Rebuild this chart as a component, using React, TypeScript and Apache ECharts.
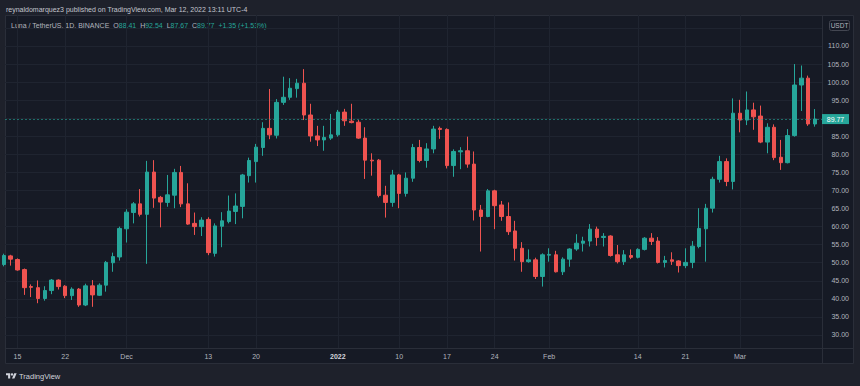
import React, { useEffect, useRef } from "react";
import * as echarts from "echarts";

// ---- data (Luna / TetherUS, 1D, Binance) ----
const startDate = "2021-11-13";
const opens = [
  49.5, 51.9, 50.9, 48.1, 43.4, 43.1, 40.1, 42.3, 45.2, 43.5, 40.9, 42.7, 38.3, 43.6, 41.0, 43.8, 50.0, 51.6,
  59.4, 63.9, 66.3, 63.4, 75.1, 68.1, 66.7, 68.7, 75.0, 66.3, 60.9, 60.0, 62.0, 52.6, 60.1, 61.4, 64.2, 65.6, 74.1, 78.0, 81.9, 87.2, 85.3, 94.4, 95.8, 98.2, 99.7, 90.9, 85.1, 84.0, 84.5,
  85.4, 91.7, 89.2, 88.9, 84.5, 78.4, 78.4, 68.7, 66.7, 74.3, 69.2, 73.4, 81.9, 78.3, 81.5, 87.2, 86.9, 76.9, 80.7, 81.0, 77.3, 64.6, 62.8, 69.9, 66.0, 62.8, 58.8, 54.0, 50.3, 50.8, 46.2,
  52.1, 52.2, 47.5, 51.0, 53.8, 55.4, 56.0, 59.3, 57.0, 57.4, 52.2, 50.3, 52.0, 51.5, 53.7, 56.8, 56.0, 50.1, 50.8, 50.5, 49.2, 50.1, 54.5, 59.4, 65.1, 73.1, 78.0, 72.5,
  91.4, 89.5, 92.3, 90.6, 83.4, 87.5, 79.2, 77.7, 85.2, 99.2, 101.1, 88.41,
];
const highs = [
  52.5, 52.2, 51.2, 48.4, 44.0, 45.1, 43.5, 45.5, 45.4, 43.8, 43.2, 43.0, 44.2, 45.2, 44.3, 50.5, 52.8, 60.0,
  64.8, 66.8, 70.4, 78.2, 78.4, 68.5, 74.3, 76.0, 76.8, 72.0, 63.9, 62.6, 62.6, 60.9, 64.0, 68.6, 69.2, 74.6, 79.1, 82.9, 88.9, 98.1, 95.3, 101.5, 101.1, 100.9, 103.6, 94.0, 87.9, 87.9, 91.2,
  92.3, 92.6, 94.0, 89.5, 87.5, 80.3, 78.7, 71.3, 75.7, 74.6, 75.0, 82.9, 84.0, 83.1, 87.9, 87.7, 87.2, 81.4, 82.0, 84.9, 80.8, 66.0, 70.4, 70.2, 67.1, 66.7, 61.6, 55.7, 53.7, 51.4, 52.6,
  54.0, 53.3, 51.5, 54.0, 57.9, 57.2, 60.7, 60.0, 58.2, 57.6, 54.9, 53.5, 53.7, 54.0, 57.1, 58.2, 57.1, 51.9, 52.9, 50.7, 54.0, 56.0, 65.1, 66.3, 73.8, 79.6, 78.9, 95.5,
  95.1, 97.4, 94.3, 93.5, 88.6, 88.3, 84.0, 87.0, 105.0, 104.6, 101.8, 92.54,
];
const lows = [
  49.0, 49.2, 47.8, 41.1, 40.5, 38.8, 39.5, 41.3, 42.6, 40.2, 39.7, 37.8, 38.0, 37.8, 40.8, 42.0, 47.5, 50.6,
  55.6, 60.9, 62.8, 49.7, 65.2, 59.8, 65.5, 65.1, 65.4, 60.5, 57.7, 57.4, 52.1, 51.7, 54.3, 60.9, 60.7, 62.3, 72.2, 72.2, 79.6, 84.2, 84.4, 93.7, 95.1, 95.7, 89.5, 83.5, 82.3, 81.0, 84.0,
  84.9, 87.9, 88.6, 84.3, 73.2, 74.1, 68.1, 62.5, 65.5, 65.1, 68.3, 72.4, 77.8, 76.3, 80.3, 84.3, 76.1, 73.8, 75.9, 76.3, 61.7, 53.1, 62.6, 59.3, 61.6, 57.7, 50.6, 47.5, 50.0, 45.5, 43.4,
  50.3, 47.3, 46.6, 48.9, 53.3, 53.1, 54.5, 54.7, 54.5, 51.7, 49.8, 49.4, 51.0, 51.2, 53.4, 54.9, 49.8, 48.7, 49.4, 47.3, 48.5, 48.5, 54.0, 50.3, 63.9, 72.2, 71.2, 70.3,
  86.1, 88.1, 86.8, 83.1, 80.3, 78.4, 75.7, 77.5, 84.9, 92.0, 87.9, 87.67,
];
const closes = [
  52.0, 51.0, 48.0, 43.1, 43.2, 40.1, 42.3, 45.2, 43.4, 40.9, 42.7, 38.3, 43.6, 41.1, 43.8, 50.1, 51.7, 59.5,
  64.0, 66.3, 63.4, 75.1, 67.9, 66.8, 68.8, 75.0, 66.3, 60.7, 60.0, 61.8, 52.8, 60.2, 61.6, 64.3, 65.7, 74.3, 78.3, 82.0, 87.2, 85.4, 94.4, 95.8, 98.3, 99.7, 90.9, 85.1, 84.0, 84.7, 85.4,
  91.7, 89.3, 88.8, 84.5, 78.4, 78.2, 68.6, 66.7, 74.3, 69.2, 73.4, 81.9, 78.3, 81.5, 87.0, 86.9, 76.9, 80.8, 81.0, 77.3, 64.6, 62.8, 69.9, 65.8, 62.8, 58.6, 54.0, 50.3, 50.8, 46.2, 52.2,
  52.3, 47.5, 51.0, 53.8, 55.4, 56.0, 59.3, 57.0, 57.3, 52.0, 50.3, 52.2, 51.5, 53.7, 56.8, 55.9, 50.1, 50.6, 50.4, 49.2, 50.1, 54.6, 59.5, 65.1, 73.1, 78.0, 72.5, 91.4,
  89.5, 92.3, 90.4, 83.4, 87.5, 79.1, 77.7, 85.2, 99.2, 101.1, 88.42, 89.77,
];
const priceTicks = [30, 35, 40, 45, 50, 55, 60, 65, 70, 75, 80, 85, 90, 95, 100, 105, 110];
const gridPrices = [30, 35, 40, 45, 50, 55, 60, 65, 70, 75, 80, 85, 90, 95, 100, 105, 110, 115];
const tickDates = [
  "2021-11-15", "2021-11-22", "2021-12-01", "2021-12-13", "2021-12-20", "2022-01-01", "2022-01-10",
  "2022-01-17", "2022-01-24", "2022-02-01", "2022-02-14", "2022-02-21", "2022-03-01",
];
const tickLabels = ["15", "22", "Dec", "13", "20", "2022", "10", "17", "24", "Feb", "14", "21", "Mar"];

const dates: string[] = [];
{
  const [y, m, d] = startDate.split("-").map(Number);
  for (let i = 0; i < closes.length; i++) {
    dates.push(new Date(Date.UTC(y, m - 1, d + i)).toISOString().slice(0, 10));
  }
}
const tickIdx = tickDates.map((d) => dates.indexOf(d));

const UP = "#26a69a";
const DOWN = "#ef5350";
const FONT = '"Liberation Sans", Arial, sans-serif';
const TXT = "#b2b5be";

const LOGO_D = "M14 22H7V11H0V4h14v18zM28 22h-8l7.5-18h8L28 22zM24 8a4 4 0 1 1-8 0a4 4 0 1 1 8 0z";
let logoRegistered = false;

export default function App() {
  const ref = useRef<HTMLDivElement>(null);
  useEffect(() => {
    document.body.style.margin = "0";
    if (!logoRegistered) {
      echarts.graphic.registerShape("tvlogo", echarts.graphic.extendPath(LOGO_D, {}) as any);
      logoRegistered = true;
    }
    const chart = echarts.init(ref.current!, null, { renderer: "svg" });
    const n = closes.length;
    const data = closes.map((c, i) => [i, opens[i], c, lows[i], highs[i]]);
    const last = n - 1;
    const lastClose = closes[last];
    const chg = lastClose - closes[last - 1];
    const pct = (chg / closes[last - 1]) * 100;
    const sign = chg >= 0 ? "+" : "";
    const legend =
      "{a|Luna / TetherUS, 1D, BINANCE}  " +
      `{l|O}{v|${opens[last].toFixed(2)}}  {l|H}{v|${highs[last].toFixed(2)}}  ` +
      `{l|L}{v|${lows[last].toFixed(2)}}  {l|C}{v|${lastClose.toFixed(2)}}  ` +
      `{v|${sign}${chg.toFixed(2)} (${sign}${pct.toFixed(2)}%)}`;
    // price labels hidden behind the last-price box
    const shownPriceTicks = priceTicks.filter((p) => Math.abs(p - lastClose) > 2);

    const baseGraphic: any[] = [
      { id: "panel", type: "rect", z: -100, shape: { x: 5.5, y: 15.5, width: 848, height: 348 }, style: { fill: "#161a25", stroke: "#2a2e39", lineWidth: 1 } },
      { id: "vsep", type: "line", z: -90, shape: { x1: 822.5, y1: 15.5, x2: 822.5, y2: 363.5 }, style: { stroke: "#2a2e39", lineWidth: 1 } },
      { id: "hsep", type: "line", z: -90, shape: { x1: 5.5, y1: 348.5, x2: 853.5, y2: 348.5 }, style: { stroke: "#2a2e39", lineWidth: 1 } },
      { id: "title", type: "text", x: 6, y: 9, style: { text: "reynaldomarquez3 published on TradingView.com, Mar 12, 2022 13:11 UTC-4", fill: "#c3c6ce", font: `7px ${FONT}`, verticalAlign: "middle" } },
      {
        id: "legend", type: "text", x: 11, y: 25,
        style: {
          text: legend, verticalAlign: "middle", font: `7px ${FONT}`, fill: TXT,
          rich: {
            a: { fill: TXT, fontSize: 7, fontFamily: FONT },
            l: { fill: TXT, fontSize: 7, fontFamily: FONT },
            v: { fill: UP, fontSize: 7, fontFamily: FONT },
          },
        },
      },
      { id: "usdtbox", type: "rect", shape: { x: 829.5, y: 20.5, width: 20, height: 10, r: 2 }, style: { fill: "#161a25", stroke: "#434651", lineWidth: 1 } },
      { id: "usdt", type: "text", x: 839.5, y: 25.8, style: { text: "USDT", fill: TXT, font: `6.5px ${FONT}`, align: "center", verticalAlign: "middle" } },
      { id: "logo", type: "tvlogo", x: 6, y: 372, scaleX: 0.3, scaleY: 0.3, style: { fill: "#d1d4dc" } },
      { id: "brand", type: "text", x: 19, y: 376, style: { text: "TradingView", fill: "#d1d4dc", font: `7.5px ${FONT}`, verticalAlign: "middle" } },
    ];

    chart.setOption({
      animation: false,
      backgroundColor: "#1e212b",
      textStyle: { fontFamily: FONT },
      grid: { left: 5, right: 38, top: 15, bottom: 38, containLabel: false },
      xAxis: {
        type: "value",
        min: 0.166,
        max: 120.03,
        axisLine: { show: false },
        axisTick: { show: false, customValues: tickIdx },
        axisLabel: {
          customValues: tickIdx,
          margin: 5,
          fontSize: 7,
          color: TXT,
          formatter: (v: number) => {
            const s = tickLabels[tickIdx.indexOf(Math.round(v))] ?? "";
            return s === "2022" ? "{b|2022}" : s;
          },
          rich: { b: { fontWeight: "bold", color: "#d1d4dc", fontSize: 7 } },
        },
        splitLine: { show: true, lineStyle: { color: "#1f2430", width: 1 } },
      },
      yAxis: {
        type: "value",
        position: "right",
        min: 26.4,
        max: 118.58,
        axisLine: { show: false },
        axisTick: { show: false, customValues: gridPrices },
        axisLabel: {
          customValues: shownPriceTicks,
          align: "right",
          margin: 27,
          fontSize: 7,
          color: TXT,
          formatter: (v: number) => v.toFixed(2),
        },
        splitLine: { show: true, lineStyle: { color: "#1f2430", width: 1 } },
      },
      series: [
        {
          type: "candlestick",
          data,
          encode: { x: 0, y: [1, 2, 3, 4] },
          barWidth: 4,
          clip: true,
          itemStyle: { color: UP, color0: DOWN, borderColor: UP, borderColor0: DOWN, borderWidth: 1 },
          markLine: {
            silent: true,
            symbol: ["none", "none"],
            label: { show: false },
            lineStyle: { color: UP, type: [2, 2], width: 1, opacity: 0.6 },
            data: [{ yAxis: lastClose }],
          },
        },
      ],
      graphic: baseGraphic,
    });

    const py = chart.convertToPixel({ yAxisIndex: 0 }, lastClose) as number;
    chart.setOption({
      graphic: [
        ...baseGraphic,
        { id: "pbox", type: "rect", shape: { x: 822, y: py - 5, width: 27, height: 10 }, style: { fill: UP } },
        { id: "ptxt", type: "text", x: 835.5, y: py + 0.5, style: { text: lastClose.toFixed(2), fill: "#ffffff", font: `7px ${FONT}`, align: "center", verticalAlign: "middle" } },
      ],
    });

    return () => chart.dispose();
  }, []);
  return <div ref={ref} style={{ position: "fixed", left: 0, top: 0, width: 860, height: 386 }} />;
}
